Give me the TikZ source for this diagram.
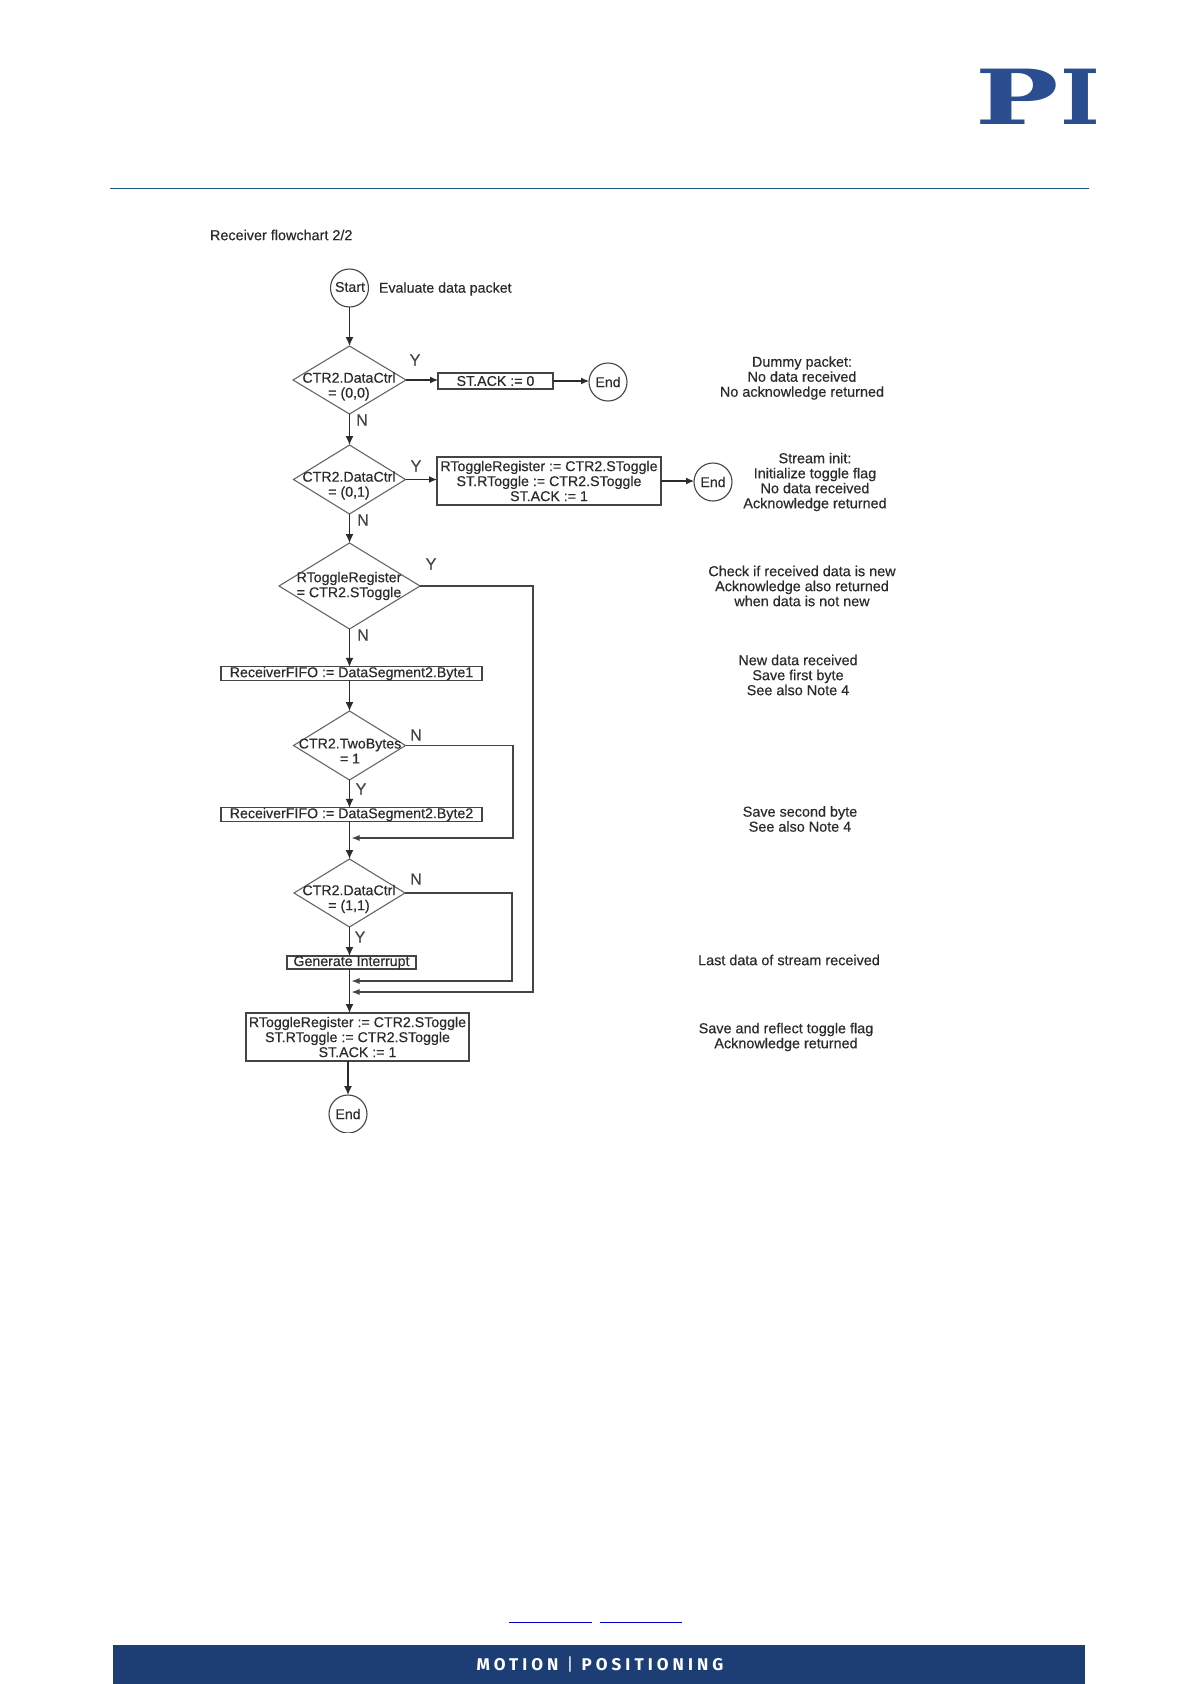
\documentclass[tikz,border=0pt]{standalone}
\usepackage{fontspec}
\setmainfont[FakeBold=0.4]{Liberation Sans}
\newfontfamily\logofont{DejaVu Serif}
\newfontfamily\bandfont[LetterSpace=24]{Fira Sans}
\usetikzlibrary{shapes.geometric,arrows.meta}
\definecolor{ink}{HTML}{2B2B2B}
\definecolor{stroke}{HTML}{444444}
\definecolor{soft}{HTML}{666666}
\definecolor{piblue}{HTML}{2A4E90}
\definecolor{band}{HTML}{1D3D75}
\definecolor{rulecol}{HTML}{1A5A85}
\definecolor{linkcol}{HTML}{0000C0}
\tikzset{
  x=1pt,y=-1pt,
  every node/.style={inner sep=0pt,outer sep=0pt,text=ink,font=\fontsize{14.2}{15}\selectfont,align=center},
  choice/.style={diamond,draw=soft,line width=1.1pt,minimum width=#1},
  actionbox/.style={rectangle,draw=stroke,line width=1.2pt},
  terminal/.style={circle,draw=stroke,line width=1.1pt,minimum size=38pt},
  branch/.style={font=\fontsize{16}{16}\selectfont,text=stroke},
  note/.style={font=\fontsize{14.4}{15}\selectfont},
  flow/.style={draw=ink,line width=1.4pt,-{Latex[length=9pt,width=8pt]}},
  sideflow/.style={draw=ink,line width=1.2pt,-{Latex[length=8pt,width=7pt]}},
  loop/.style={draw=stroke,line width=1.1pt,-{Latex[length=8pt,width=6pt]}}
}
\begin{document}
\begin{tikzpicture}
\useasboundingbox (0,0) rectangle (1191,1684);
\fill[white] (0,0) rectangle (1191,1684);
% header
\node[font=\logofont\bfseries\fontsize{76}{76}\selectfont,text=piblue,xscale=1.46] (logoP) at (1017,96.5) {P};
\node[font=\logofont\bfseries\fontsize{76}{76}\selectfont,text=piblue,xscale=1.12] (logoI) at (1080.5,96.5) {I};
\coordinate (ruleL) at (110,188);
\coordinate (ruleR) at (1089,188);
\draw[rulecol,line width=1pt] (ruleL) -- (ruleR);
% footer
\fill[band] (113,1645) rectangle (1085,1684);
\node[font=\bandfont\bfseries\fontsize{17}{17}\selectfont,text=white] (bandtext) at (600,1664.5) {MOTION {\mdseries|} POSITIONING};
\draw[linkcol,line width=1pt] (509,1622) -- (592,1622);
\draw[linkcol,line width=1pt] (600,1622) -- (682,1622);
% title
\node[anchor=west,font=\fontsize{14.4}{15}\selectfont] (title) at (210,235) {Receiver flowchart 2/2};
% flowchart nodes
\node[terminal] (start) at (349.5,288) {};
\node (starttext) at (350,287) {Start};
\node[anchor=west] (evaluate) at (379,289) {Evaluate data packet};

\node[choice=113pt,minimum height=68pt] (d1) at (349.5,380) {};
\node (d1t) at (349,386.5) {CTR2.DataCtrl\\= (0,0)};
\node[actionbox,minimum width=115pt,minimum height=16pt] (b1) at (495.5,381) {\raisebox{-0.8pt}{ST.ACK := 0}};
\node[terminal] (e1) at (608,382) {};
\node (e1t) at (608,382) {End};

\node[choice=112pt,minimum height=69pt] (d2) at (349.5,479.5) {};
\node (d2t) at (349,485.5) {CTR2.DataCtrl\\= (0,1)};
\node[actionbox,minimum width=224pt,minimum height=48pt] (b2) at (549,481) {RToggleRegister := CTR2.SToggle\\ST.RToggle := CTR2.SToggle\\ST.ACK := 1};
\node[terminal] (e2) at (713,482) {};
\node (e2t) at (713,482) {End};

\node[choice=141pt,minimum height=86pt] (d3) at (349.5,586) {};
\node (d3t) at (349,586) {RToggleRegister\\= CTR2.SToggle};

\node[actionbox,minimum width=261pt,minimum height=13pt] (b3) at (351.5,673.5) {\raisebox{-0.8pt}{ReceiverFIFO := DataSegment2.Byte1}};

\node[choice=112pt,minimum height=69pt] (d4) at (349.5,745.5) {};
\node (d4t) at (350,751) {CTR2.TwoBytes\\= 1};

\node[actionbox,minimum width=261pt,minimum height=13pt] (b4) at (351.5,814.5) {\raisebox{-0.8pt}{ReceiverFIFO := DataSegment2.Byte2}};

\node[choice=111pt,minimum height=68pt] (d5) at (349.5,893) {};
\node (d5t) at (349,899) {CTR2.DataCtrl\\= (1,1)};

\node[actionbox,minimum width=129pt,minimum height=13pt] (b5) at (351.5,962.5) {\raisebox{-0.8pt}{Generate Interrupt}};

\node[actionbox,minimum width=223pt,minimum height=48pt] (b6) at (357.5,1037) {RToggleRegister := CTR2.SToggle\\ST.RToggle := CTR2.SToggle\\ST.ACK := 1};

\begin{scope}
\clip (320,1090) rectangle (380,1132.5);
\node[terminal] (e3) at (348,1114) {};
\end{scope}
\node (e3t) at (348,1114) {End};

% merge points
\coordinate (m1) at (351.5,838);
\coordinate (m2) at (351.5,981);
\coordinate (m3) at (351.5,992);
\coordinate (c1a) at (513,745.5);
\coordinate (c2a) at (512,893);
\coordinate (c3a) at (533,586);

% branch labels
\node[branch] (l1y) at (415,360) {Y};
\node[branch] (l1n) at (362,420) {N};
\node[branch] (l2y) at (416,466) {Y};
\node[branch] (l2n) at (363,520) {N};
\node[branch] (l3y) at (431,564) {Y};
\node[branch] (l3n) at (363,635) {N};
\node[branch] (l4n) at (416,735) {N};
\node[branch] (l4y) at (361,789) {Y};
\node[branch] (l5n) at (416,879) {N};
\node[branch] (l5y) at (360,937) {Y};

% connectors
\draw[flow] (start.south) -- (d1.north);
\draw[flow] (d1.south) -- (d2.north);
\draw[flow] (d2.south) -- (d3.north);
\draw[flow] (d3.south) -- (d3.south |- b3.north);
\draw[flow] (d3.south |- b3.south) -- (d4.north);
\draw[flow] (d4.south) -- (d4.south |- b4.north);
\draw[flow] (d4.south |- b4.south) -- (d5.north);
\draw[flow] (d5.south) -- (d5.south |- b5.north);
\draw[flow] (d5.south |- b5.south) -- (d5.south |- b6.north);
\draw[flow] (e3.north |- b6.south) -- (e3.north);
\draw[sideflow] (d1.east) -- (b1.west |- d1.east);
\draw[sideflow] (b1.east) -- (e1.west |- b1.east);
\draw[sideflow,line width=1.5pt] (d2.east) -- (b2.west |- d2.east);
\draw[sideflow] (b2.east) -- (e2.west |- b2.east);
\draw[loop] (d4.east) -- (c1a) |- (m1);
\draw[loop] (d5.east) -- (c2a) |- (m2);
\draw[loop] (d3.east) -- (c3a) |- (m3);

% notes
\node[note] (n1) at (802,378) {Dummy packet:\\No data received\\No acknowledge returned};
\node[note] (n2) at (815,482) {Stream init:\\Initialize toggle flag\\No data received\\Acknowledge returned};
\node[note] (n3) at (802,586) {Check if received data is new\\Acknowledge also returned\\when data is not new};
\node[note] (n4) at (798,675) {New data received\\Save first byte\\See also Note 4};
\node[note] (n5) at (800,819) {Save second byte\\See also Note 4};
\node[note] (n6) at (789,960) {Last data of stream received};
\node[note] (n7) at (786,1037) {Save and reflect toggle flag\\Acknowledge returned};
\end{tikzpicture}
\end{document}
